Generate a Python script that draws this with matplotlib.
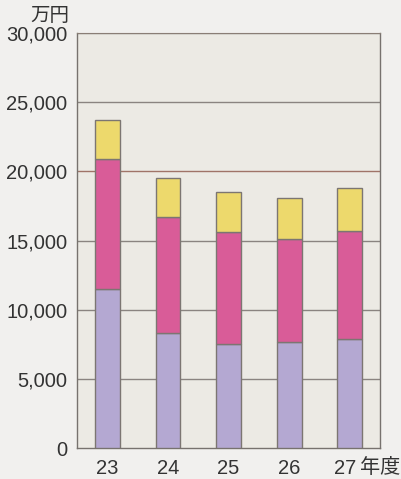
import matplotlib
matplotlib.use("Agg")
import matplotlib.pyplot as plt
import matplotlib.transforms as mtransforms

plt.rcParams['font.family'] = ['Liberation Sans', 'Noto Sans CJK JP', 'DejaVu Sans']

years = ["23", "24", "25", "26", "27"]
purple = [11500, 8300, 7500, 7700, 7900]
pink = [9400, 8400, 8100, 7450, 7800]
yellow = [2800, 2800, 2900, 2950, 3100]
yticks = [0, 5000, 10000, 15000, 20000, 25000, 30000]
ytick_labels = ["0", "5,000", "10,000", "15,000", "20,000", "25,000", "30,000"]

fig = plt.figure(figsize=(4.01, 4.79), dpi=100, facecolor="#F1F0EE")
ax = fig.add_axes([0.192, 0.0647, 0.756, 0.866])
ax.set_facecolor("#ECEAE4")

x = list(range(len(years)))
edge = "#7C7672"
w = 0.41
ax.bar(x, purple, width=w, color="#B4A8D2", edgecolor=edge, linewidth=1, zorder=3)
b2 = [p for p in purple]
ax.bar(x, pink, width=w, bottom=b2, color="#D95C98", edgecolor=edge, linewidth=1, zorder=3)
b3 = [p + q for p, q in zip(purple, pink)]
ax.bar(x, yellow, width=w, bottom=b3, color="#EDD96C", edgecolor=edge, linewidth=1, zorder=3)

ax.set_xlim(-0.5, 4.5)
ax.set_ylim(0, 30000)
ax.set_yticks(yticks)
ax.set_yticklabels(ytick_labels, fontsize=14.5, color="#333333")
ax.set_xticks(x)
ax.set_xticklabels(years, fontsize=14.5, color="#333333")
ax.tick_params(length=0)
ax.tick_params(axis='x', pad=8)
ax.tick_params(axis='y', pad=7)

last = ax.get_xticklabels()[-1]
last.set_transform(last.get_transform() + mtransforms.ScaledTranslation(-5/100, 0, fig.dpi_scale_trans))

for v in yticks[1:]:
    c = "#A07468" if v in (20000,) else "#8A8480"
    ax.axhline(v, color=c, linewidth=1, zorder=1)

for s in ["left", "bottom", "right"]:
    ax.spines[s].set_color("#77726E")
    ax.spines[s].set_linewidth(1)
ax.spines["top"].set_color("#8A7E76")

fig.text(0.172, 0.967, "万円", fontsize=14, ha="right", va="center", color="#333333",
         family=['Noto Sans CJK JP', 'DejaVu Sans'])
fig.text(0.999, 0.025, "年度", fontsize=14.5, ha="right", va="center", color="#333333",
         family=['Noto Sans CJK JP', 'DejaVu Sans'])

fig.savefig("out.png", dpi=100, facecolor=fig.get_facecolor())
